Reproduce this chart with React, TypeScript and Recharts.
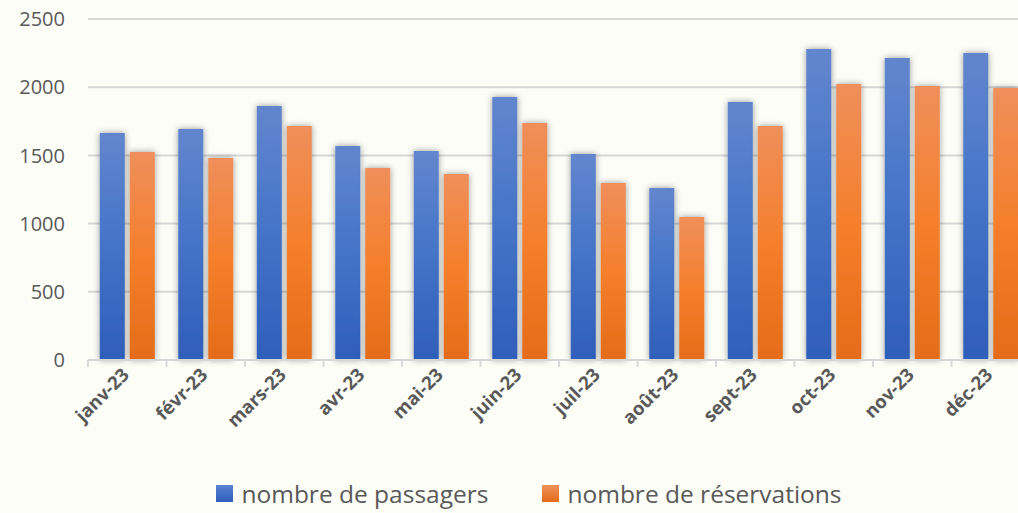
import { BarChart, Bar, CartesianGrid, XAxis, YAxis, Legend } from "recharts";

const months = ["janv-23", "févr-23", "mars-23", "avr-23", "mai-23", "juin-23", "juil-23", "août-23", "sept-23", "oct-23", "nov-23", "déc-23"];
const passagers = [1665, 1694, 1862, 1569, 1532, 1928, 1510, 1261, 1891, 2280, 2214, 2251];
const reservations = [1525, 1481, 1716, 1408, 1364, 1738, 1298, 1048, 1716, 2023, 2009, 1994];
const yTicks = [0, 500, 1000, 1500, 2000, 2500];

const data = months.map((m, i) => ({
  name: m,
  passagers: passagers[i],
  reservations: reservations[i],
}));

const FONT = "'Open Sans', 'Noto Sans', sans-serif";
const TEXT = "#595959";
const HALF_BAND = 39.25;

const MonthTick = (props: any) => {
  const { x, y, payload } = props;
  return (
    <g>
      <line x1={x - HALF_BAND} y1={y - 8} x2={x - HALF_BAND} y2={y - 1} stroke="#d9d9d9" strokeWidth={2} />
      <text
        x={x + 3}
        y={y + 8}
        textAnchor="end"
        fontFamily={FONT}
        fontWeight={700}
        fontSize={18.5}
        fill={TEXT}
        transform={`rotate(-45, ${x + 3}, ${y + 8})`}
      >
        {payload.value}
      </text>
    </g>
  );
};

const LegendContent = () => (
  <div style={{ display: "flex", justifyContent: "center", gap: 54, fontFamily: FONT, fontSize: 24.5, color: TEXT, paddingLeft: 28, paddingTop: 20 }}>
    <span style={{ display: "flex", alignItems: "center" }}>
      <span style={{ width: 17, height: 17, background: "linear-gradient(#5a83d2, #2e5fba)", marginRight: 8, display: "inline-block" }} />
      nombre de passagers
    </span>
    <span style={{ display: "flex", alignItems: "center" }}>
      <span style={{ width: 17, height: 17, background: "linear-gradient(#f0915a, #e36c1a)", marginRight: 8, display: "inline-block" }} />
      nombre de réservations
    </span>
  </div>
);

export default function App() {
  return (
    <div style={{ position: "absolute", left: 0, top: 0, width: 1018, height: 513, overflow: "hidden", background: "#fdfdf8" }}>
      <BarChart
        width={1040}
        height={513}
        data={data}
        margin={{ top: 19, right: 10, bottom: 0, left: 0 }}
        barCategoryGap="15%"
        barGap={5}
      >
        <defs>
          <linearGradient id="gBlue" x1="0" y1="0" x2="0" y2="1">
            <stop offset="0%" stopColor="#6286ce" />
            <stop offset="50%" stopColor="#4473c8" />
            <stop offset="100%" stopColor="#2e5eb9" />
          </linearGradient>
          <linearGradient id="gOrange" x1="0" y1="0" x2="0" y2="1">
            <stop offset="0%" stopColor="#ef8f5b" />
            <stop offset="50%" stopColor="#f57f2c" />
            <stop offset="100%" stopColor="#e46c19" />
          </linearGradient>
          <filter id="shadow" x="-30%" y="-10%" width="160%" height="120%">
            <feDropShadow dx="0" dy="0" stdDeviation="3" floodColor="#000" floodOpacity="0.4" />
          </filter>
        </defs>
        <CartesianGrid vertical={false} stroke="#d6d6d6" strokeWidth={2} />
        <XAxis
          dataKey="name"
          height={97}
          interval={0}
          tick={<MonthTick />}
          tickLine={false}
          axisLine={{ stroke: "#d6d6d6", strokeWidth: 2 }}
        />
        <YAxis
          width={88}
          domain={[0, 2500]}
          ticks={yTicks}
          axisLine={false}
          tickLine={false}
          tickSize={0}
          tickMargin={23}
          tick={{ fontFamily: FONT, fontSize: 20, fill: TEXT }}
        />
        <Legend verticalAlign="bottom" height={56} content={<LegendContent />} />
        <Bar dataKey="passagers" name="nombre de passagers" fill="url(#gBlue)" filter="url(#shadow)" isAnimationActive={false} />
        <Bar dataKey="reservations" name="nombre de réservations" fill="url(#gOrange)" filter="url(#shadow)" isAnimationActive={false} />
      </BarChart>
    </div>
  );
}
